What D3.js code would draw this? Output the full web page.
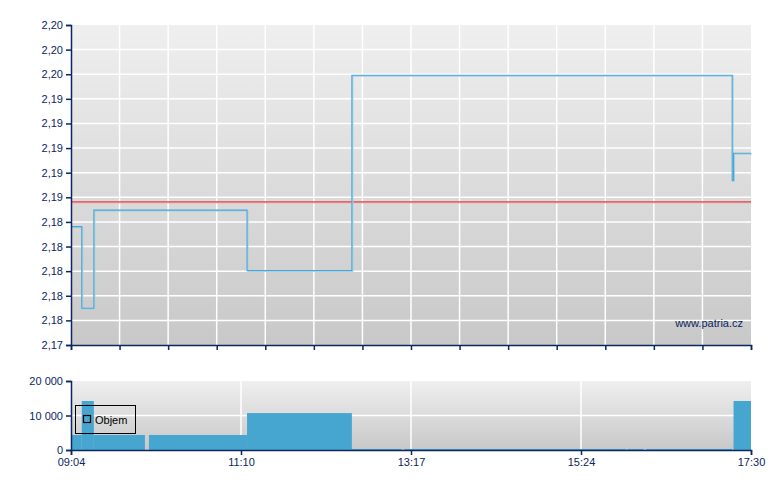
<!DOCTYPE html>
<html><head><meta charset="utf-8">
<script src="https://cdn.jsdelivr.net/npm/d3@7"></script>
<style>
html,body{margin:0;padding:0;background:#fff;}
svg{display:block;font-family:"Liberation Sans",Arial,sans-serif;}
</style></head>
<body>
<svg id="c" width="780" height="490"></svg>
<script>
// ---- data ----
const priceTimes  = ["09:04","09:12","09:21","11:15","12:33","17:16","17:17","17:30"];
const priceValues = [2.1835, 2.1766, 2.1849, 2.1798, 2.1963, 2.1874, 2.1897, 2.1897];
const refValue = 2.1856;
const volStart  = ["09:04","09:12","09:21","10:02","11:15","12:33","13:12","15:58","16:12","17:17"];
const volEnd    = ["09:12","09:21","09:59","11:15","12:33","13:10","15:57","16:10","17:16","17:30"];
const volValues = [4350, 14200, 4350, 4350, 10700, 300, 300, 300, 300, 14200];
const yMin = 2.1735, yStep = 0.00208, yTickCount = 14;
const xLabels = ["09:04","11:10","13:17","15:24","17:30"];
const volTicks = [0, 10000, 20000];
const startTime = "09:04", endTime = "17:30";

const toMin = s => { const [h,m] = s.split(":").map(Number); return h*60+m; };
const svg = d3.select("#c");
const navy = "#0b2661";
const L = 71, R = 751, T1 = 25, B1 = 345, T2 = 381, B2 = 450;

const x = d3.scaleLinear().domain([toMin(startTime), toMin(endTime)]).range([L, R]);
const yTickVals = d3.range(yTickCount).map(i => yMin + i*yStep);
const y = d3.scaleLinear().domain([yMin, yTickVals[yTickCount-1]]).range([B1, T1]);
const yv = d3.scaleLinear().domain([0, 20000]).range([B2, T2]);

const defs = svg.append("defs");
const g1 = defs.append("linearGradient").attr("id","bg").attr("x1",0).attr("y1",0).attr("x2",0).attr("y2",1);
g1.append("stop").attr("offset","0%").attr("stop-color","#efefef");
g1.append("stop").attr("offset","100%").attr("stop-color","#c8c8c8");

// ---- top panel ----
svg.append("rect").attr("x",L).attr("y",T1).attr("width",R-L).attr("height",B1-T1).attr("fill","url(#bg)");
const topGridX = d3.range(15).map(i => x.domain()[0] + i*(x.domain()[1]-x.domain()[0])/14);
svg.append("g").selectAll("line").data(topGridX.slice(1,-1)).join("line")
  .attr("x1",d=>x(d)).attr("x2",d=>x(d)).attr("y1",T1).attr("y2",B1)
  .attr("stroke","#fff").attr("stroke-width",1.5);
svg.append("g").selectAll("line").data(yTickVals.slice(1,-1)).join("line")
  .attr("x1",L).attr("x2",R).attr("y1",d=>y(d)).attr("y2",d=>y(d))
  .attr("stroke","#fff").attr("stroke-width",1.5);

// reference line
svg.append("line").attr("x1",L).attr("x2",R).attr("y1",y(refValue)+0.8).attr("y2",y(refValue)+0.8)
  .attr("stroke","#f0a0a0").attr("stroke-width",1.2);
svg.append("line").attr("x1",L).attr("x2",R).attr("y1",y(refValue)).attr("y2",y(refValue))
  .attr("stroke","#e03a3a").attr("stroke-width",1);

const pts = priceTimes.map((t,i)=>[toMin(t), priceValues[i]]);
const line = d3.line().x(d=>x(d[0])).y(d=>y(d[1])).curve(d3.curveStepAfter);
svg.append("path").datum(pts).attr("d",line).attr("fill","none")
  .attr("transform","translate(0.8,0.8)")
  .attr("stroke","#a3d2ea").attr("stroke-width",1.4);
svg.append("path").datum(pts).attr("d",line).attr("fill","none")
  .attr("stroke","#4ba6d3").attr("stroke-width",1.1);

// axes top
const yAxis = d3.axisLeft(y).tickValues(yTickVals).tickSize(5).tickPadding(3)
  .tickFormat(d => d3.format(".2f")(d).replace(".", ","));
const ya = svg.append("g").attr("transform",`translate(${L},0)`).call(yAxis);
const xAxisTop = d3.axisBottom(x).tickValues(topGridX).tickSize(5).tickFormat("");
const xa = svg.append("g").attr("transform",`translate(0,${B1})`).call(xAxisTop);

svg.append("text").attr("x",743).attr("y",327).attr("text-anchor","end")
  .attr("font-size",11).attr("fill",navy).text("www.patria.cz");

// ---- bottom panel ----
svg.append("rect").attr("x",L).attr("y",T2).attr("width",R-L).attr("height",B2-T2).attr("fill","url(#bg)");
const labelTicks = d3.range(5).map(i => x.domain()[0] + i*(x.domain()[1]-x.domain()[0])/4);
svg.append("g").selectAll("line").data(labelTicks.slice(1,-1)).join("line")
  .attr("x1",d=>x(d)).attr("x2",d=>x(d)).attr("y1",T2).attr("y2",B2)
  .attr("stroke","#fff").attr("stroke-width",1.5);
svg.append("line").attr("x1",L).attr("x2",R).attr("y1",yv(10000)).attr("y2",yv(10000))
  .attr("stroke","#fff").attr("stroke-width",1.5);

svg.append("g").selectAll("rect").data(volValues).join("rect")
  .attr("x",(d,i)=>x(toMin(volStart[i])))
  .attr("width",(d,i)=>x(toMin(volEnd[i]))-x(toMin(volStart[i])))
  .attr("y",d=>yv(d)).attr("height",d=>B2-yv(d))
  .attr("fill","#46a6cf");

const vAxis = d3.axisLeft(yv).tickValues(volTicks).tickSize(5).tickPadding(3)
  .tickFormat(d => d3.format(",")(d).replace(/,/g," "));
const va = svg.append("g").attr("transform",`translate(${L},0)`).call(vAxis);
const xAxisBot = d3.axisBottom(x).tickValues(labelTicks).tickSize(5).tickPadding(3)
  .tickFormat((d,i)=>xLabels[i]);
const xb = svg.append("g").attr("transform",`translate(0,${B2})`).call(xAxisBot);

[ya,xa,va,xb].forEach(a=>{
  a.select(".domain").attr("stroke",navy).attr("stroke-width",1.5);
  a.selectAll(".tick line").attr("stroke",navy).attr("stroke-width",1.5);
  a.selectAll(".tick text").attr("fill",navy).attr("font-size",11)
    .attr("font-family","'Liberation Sans',Arial,sans-serif");
});

// legend
svg.append("rect").attr("x",75.5).attr("y",405.5).attr("width",60).attr("height",28)
  .attr("fill","none").attr("stroke","#000");
svg.append("rect").attr("x",83.5).attr("y",415.5).attr("width",7).attr("height",7)
  .attr("fill","none").attr("stroke","#000").attr("stroke-width",1.2);
svg.append("text").attr("x",95).attr("y",424).attr("font-size",11).attr("fill","#000").text("Objem");
</script>
</body></html>
